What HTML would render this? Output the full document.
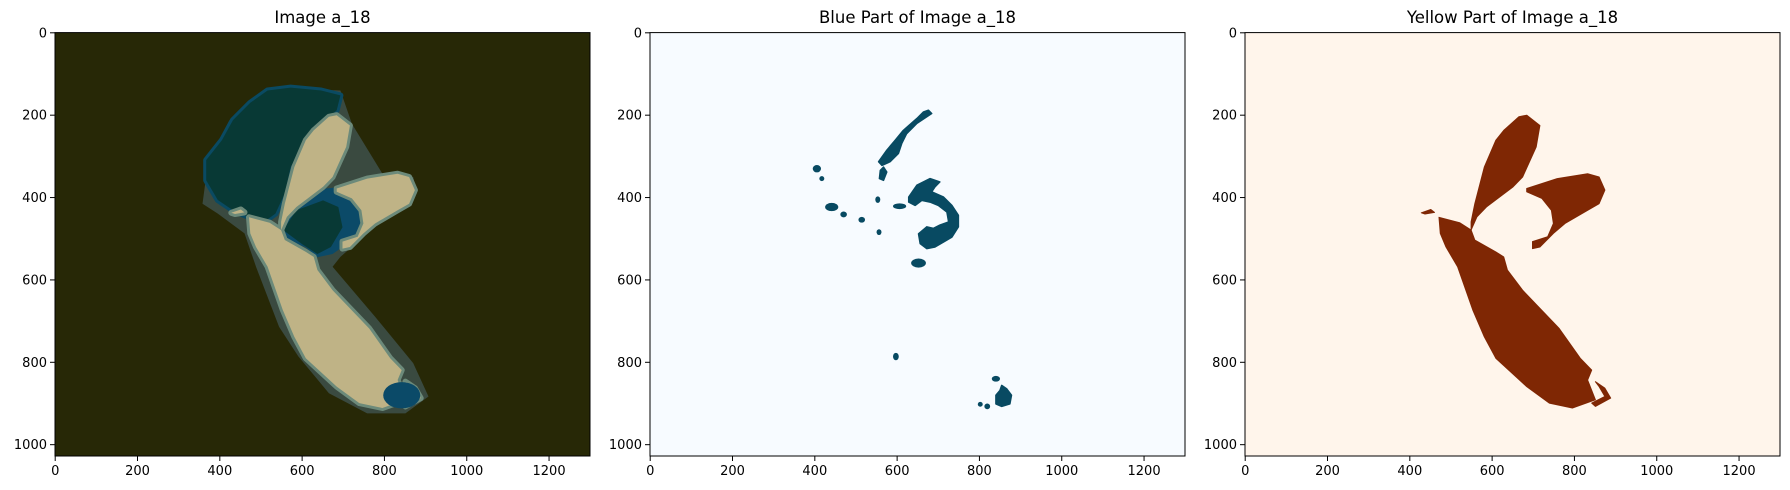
<!DOCTYPE html>
<html><head><meta charset="utf-8"><style>
html,body{margin:0;padding:0;background:#fff;width:1790px;height:490px;overflow:hidden}
svg{display:block;font-family:"DejaVu Sans","Liberation Sans",sans-serif}
</style></head><body>
<svg id="fig" width="1790" height="490" viewBox="0 0 1790 490" xmlns="http://www.w3.org/2000/svg"></svg>
<script>
const xTicks=[0,200,400,600,800,1000,1200];
const yTicks=[0,200,400,600,800,1000];
const titles=["Image a_18","Blue Part of Image a_18","Yellow Part of Image a_18"];
const xMax=1300, yMax=1028;
const yellowLower=[[471,448],[521,461],[549,479],[558,503],[609,532],[628,544],[637,576],[674,625],[763,718],[814,790],[842,819],[832,843],[851,891],[795,911],[739,899],[684,859],[609,790],[581,738],[553,673],[516,568],[488,520],[474,487]];
const yellowUpper=[[549,459],[558,415],[581,326],[609,261],[628,237],[665,204],[684,200],[716,225],[707,277],[674,350],[651,374],[586,423],[563,447],[549,479]];
const yellowRight=[[684,378],[758,354],[832,342],[860,350],[874,382],[860,415],[832,431],[777,463],[749,487],[716,520],[698,524],[698,507],[735,495],[749,463],[744,431],[721,402],[684,386]];
const yellowSmall=[[428,437],[451,429],[460,436],[437,440]];
const yellowHook=[[851,847],[874,863],[888,887],[851,907],[842,899],[874,883],[860,859]];
const blueArc=[[676,188],[684,196],[648,220],[623,245],[611,269],[603,293],[583,313],[563,322],[555,313],[575,285],[595,261],[615,237],[648,208],[664,192]];
const blueArc2=[[567,326],[575,338],[567,358],[557,354],[559,334]];
const blueC=[[628,399],[648,370],[680,354],[704,362],[692,374],[684,386],[713,399],[733,419],[749,443],[749,471],[733,496],[713,508],[692,520],[672,524],[656,512],[652,488],[672,471],[688,475],[704,467],[725,459],[721,435],[700,419],[680,411],[660,407],[644,419],[628,411]];
const blueFoot=[[854,856],[866,864],[878,880],[874,901],[854,907],[840,901],[840,880],[850,868]];
const blueDots=[[405,330,10,9],[417,354,6,6],[441,423,16,10],[470,441,8,7],[514,454,8,7],[553,405,6,8],[556,484,6,7],[606,421,16,7],[652,559,18,11],[597,786,7,9],[840,840,10,7],[802,902,6,6],[819,907,7,7]];
const halo=[[358,415],[372,310],[423,213],[516,133],[693,140],[721,221],[795,342],[870,350],[879,390],[767,479],[693,544],[674,568],[777,689],[870,802],[907,883],[851,924],[758,924],[665,875],[591,786],[544,714],[488,568],[460,487],[395,439]];
const tealTop=[[474,170],[516,140],[572,133],[646,140],[693,152],[684,188],[656,212],[609,261],[572,326],[558,390],[535,439],[507,459],[470,447],[432,431],[395,406],[367,358],[367,309],[405,261],[432,212]];
const blueMid=[[544,479],[581,415],[656,378],[702,374],[758,423],[758,472],[721,504],[674,537],[637,545],[609,521],[563,503]];
const tealMid=[[554,479],[586,431],[651,407],[688,423],[698,472],[670,520],[637,537],[600,513]];

const NS="http://www.w3.org/2000/svg";
const svg=document.getElementById('fig');
const lefts=[55,650,1245], TOP=32.6, W=535, H=423.4;
function el(tag,attrs,parent){const e=document.createElementNS(NS,tag);for(const k in attrs)e.setAttribute(k,attrs[k]);(parent||svg).appendChild(e);return e;}
function mk(left){return {x:v=>left+(v+0.5)/xMax*W, y:v=>TOP+(v+0.5)/yMax*H};}
function poly(pts,ax,fill,g,name,stroke,sw){
  const p=el('polygon',{points:pts.map(q=>ax.x(q[0]).toFixed(1)+','+ax.y(q[1]).toFixed(1)).join(' '),fill:fill,stroke:stroke||'none','stroke-width':sw||0,'stroke-linejoin':'round'},g);
  
  
  return p;
}
function dots(ax,fill,g){
  blueDots.forEach(d=>{
    const e=el('ellipse',{cx:ax.x(d[0]),cy:ax.y(d[1]),rx:d[2]*W/xMax,ry:d[3]*H/yMax,fill:fill},g);
    
    
  });
}
const yellowSets=[yellowLower,yellowUpper,yellowRight,yellowSmall,yellowHook];
for(let i=0;i<3;i++){
  const ax=mk(lefts[i]);
  const g=el('g',{});
  
  
  const bg=['#272806','#f7fbff','#fff5eb'][i];
  const r=el('rect',{x:lefts[i],y:TOP,width:W,height:H,fill:bg},g);
  
  
  if(i===0){
    poly(halo,ax,'#3a4a40',g,'halo-region');
    poly(tealTop,ax,'#0a4a62',g,'blue-cap-edge','#0a4a62',6);
    poly(tealTop,ax,'#083935',g,'dark-cap-region');
    poly(blueMid,ax,'#0b4a68',g,'blue-mid-region');
    poly(tealMid,ax,'#083935',g,'dark-mid-region');
    yellowSets.forEach(s=>poly(s,ax,'#6c8a7a',g,'grey-edge','#6c8a7a',6));
    yellowSets.forEach(s=>poly(s,ax,'#bfb386',g,'beige-region'));
    const tip=el('ellipse',{cx:ax.x(842),cy:ax.y(880),rx:45*W/xMax,ry:32*H/yMax,fill:'#0b4a68'},g);
    
    
  } else if(i===1){
    [blueArc,blueArc2,blueC,blueFoot].forEach(s=>poly(s,ax,'#084a62',g,'blue-blob','#084a62',1.5));
    dots(ax,'#084a62',g);
  } else {
    yellowSets.forEach(s=>poly(s,ax,'#7f2704',g,'yellow-blob','#7f2704',1));
  }
  const fr=el('rect',{x:lefts[i],y:TOP,width:W,height:H,fill:'none',stroke:'#000','stroke-width':1},g);
  
  
  const t=el('text',{x:lefts[i]+W/2,y:23,'text-anchor':'middle','font-size':'16.5px',fill:'#000'},g);
  t.textContent=titles[i];
  
  
  xTicks.forEach(v=>{
    const x=ax.x(v);
    el('line',{x1:x,x2:x,y1:TOP+H,y2:TOP+H+5,stroke:'#000','stroke-width':1},g);
    const l=el('text',{x:x,y:TOP+H+19,'text-anchor':'middle','font-size':'13px',fill:'#000'},g);
    l.textContent=v;
    
    
  });
  yTicks.forEach(v=>{
    const y=ax.y(v);
    el('line',{x1:lefts[i]-5,x2:lefts[i],y1:y,y2:y,stroke:'#000','stroke-width':1},g);
    const l=el('text',{x:lefts[i]-8,y:y+4.5,'text-anchor':'end','font-size':'13px',fill:'#000'},g);
    l.textContent=v;
    
    
  });
}
</script>
</body></html>
